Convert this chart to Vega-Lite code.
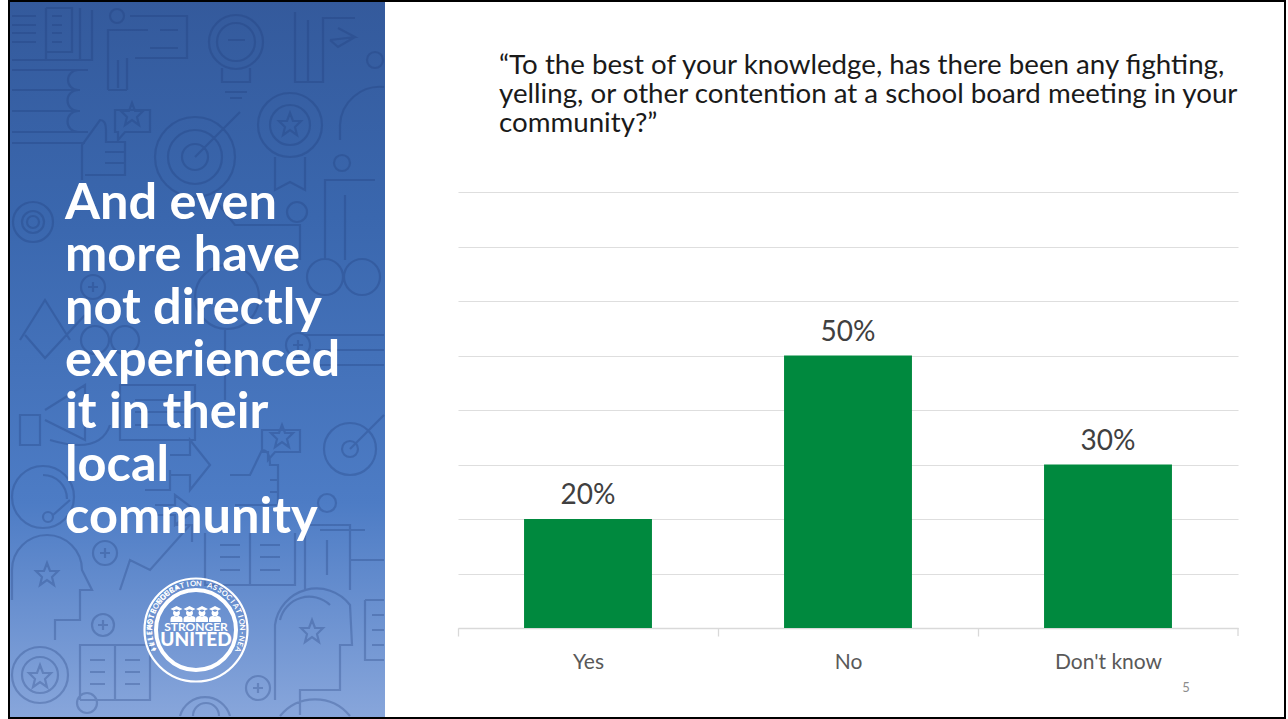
{"$schema":"https://vega.github.io/schema/vega-lite/v6.json","padding":{"left":8,"top":0,"right":0,"bottom":0},"background":"white","config":{"view":{"stroke":null}},"bounds":"flush","spacing":73,"hconcat":[{"width":375,"height":716,"data":{"values":[{}]},"layer":[{"mark":{"type":"rect","fill":{"gradient":"linear","x1":0,"y1":0,"x2":0,"y2":1,"stops":[{"offset":0,"color":"#345A9C"},{"offset":0.3,"color":"#3A67AE"},{"offset":0.7,"color":"#4D7CC5"},{"offset":1,"color":"#88A6DB"}]}},"encoding":{"x":{"value":0},"x2":{"value":375},"y":{"value":0},"y2":{"value":716}}},{"mark":{"type":"point","clip":true,"filled":false,"opacity":0.28,"stroke":"#1E3A78","strokeWidth":2.2,"shape":"M12 60H92V10M46 8V60M12 16H36M12 25H36M12 33H36M12 42H36M52 16H62M52 25H62M52 33H62M52 42H62M46 8H72V52H46M80 8V60M110 16a7 7 0 1 0 14 0a7 7 0 1 0 -14 0M108 90V30H148M127 90V58M108 90H127M118 60V88M130 16H187V58H135M160 30H178M150 48H178M209 42a27 27 0 1 0 54 0a27 27 0 1 0 -54 0M217 42a19 19 0 1 0 38 0a19 19 0 1 0 -38 0M222 68V82H250V68M225 92H247M230 98H242M228 40H245M295 12V82H323V18H355M308 20V82M330 40L355 37L338 28M330 40L338 47L355 37M367 60a8 8 0 1 0 16 0a8 8 0 1 0 -16 0M12 70H88M12 90H80M12 111H80M12 132H88M12 143H85M78 70a10 10 0 0 0 0 20M78 90a10 10 0 0 0 0 21M78 111a10 10 0 0 0 0 21M115 110H150V132H125L118 140V132H115ZM132 103l3 8h8l-6 6l2 8l-7 -5l-7 5l2 -8l-6 -6h8zM82 180V145L100 120Q106 120 106 130V142H125V175H85M105 152H125M105 163H125M155 157a40 40 0 1 0 80 0a40 40 0 1 0 -80 0M168 157a27 27 0 1 0 54 0a27 27 0 1 0 -54 0M182 157a13 13 0 1 0 26 0a13 13 0 1 0 -26 0M195 157L240 112M258 125a32 32 0 1 0 64 0a32 32 0 1 0 -64 0M270 125a20 20 0 1 0 40 0a20 20 0 1 0 -40 0M290 113l3 8h8l-6 6l2 8l-7 -5l-7 5l2 -8l-6 -6h8zM275 157V190L290 182L305 190V157M340 140V125a40 40 0 0 1 44 -38M334 163a8 8 0 1 0 16 0a8 8 0 1 0 -16 0M325 260V180H375M345 260V195M13 222a20 20 0 1 0 40 0a20 20 0 1 0 -40 0M22 222a11 11 0 1 0 22 0a11 11 0 1 0 -22 0M27 222a6 6 0 1 0 12 0a6 6 0 1 0 -12 0M287 212a10 10 0 1 0 20 0a10 10 0 1 0 -20 0M215 200L235 225H300V260M307 277a18 18 0 1 0 36 0a18 18 0 1 0 -36 0M344 277a18 18 0 1 0 36 0a18 18 0 1 0 -36 0M195 297a32 32 0 1 0 64 0a32 32 0 1 0 -64 0M225 330V400M81 287a12 12 0 1 0 24 0a12 12 0 1 0 -24 0M88 287h10M93 282v10M20 340L45 300L70 340M25 335L45 358L85 315M81 340a14 14 0 1 0 28 0a14 14 0 1 0 -28 0M111 340a14 14 0 1 0 28 0a14 14 0 1 0 -28 0M286 345a12 12 0 1 0 24 0a12 12 0 1 0 -24 0M293 345h10M298 340v10M305 335H384M315 350H384M315 365H384M20 415H40V445H20ZM45 410L85 385V440L45 420M50 440Q100 455 110 425M120 385H195V440H120ZM135 400H185M135 412H185M135 425H185M324 449a26 26 0 1 0 52 0a26 26 0 1 0 -52 0M342 449a8 8 0 1 0 16 0a8 8 0 1 0 -16 0M350 449L384 415M262 430H300V452H275L268 460V452H262ZM282 425l3 8h8l-6 6l2 8l-7 -5l-7 5l2 -8l-6 -6h8zM230 475H250L262 450Q270 450 270 465H278V505H235M270 480H278M270 492H278M318 503a9 9 0 1 0 18 0a9 9 0 1 0 -18 0M305 590V525H350V590M327 540V575M12 497a31 31 0 1 0 62 0a31 31 0 1 0 -62 0M43 475a24 24 0 0 1 24 24M70 500L53 515M43 517a5 5 0 1 0 10 0a5 5 0 1 0 -10 0M170 455H190V440L210 465L190 490V475H170M145 490H170V470M155 505H175V495L195 510L175 525V515H155M120 590L130 560L150 570L190 525M175 525H192V542M93 553a12 12 0 1 0 24 0a12 12 0 1 0 -24 0M100 553h10M105 548v10M205 533V585H295V533M250 533V585M220 545H240M220 557H240M220 570H240M260 545H280M260 557H280M260 570H280M12 600V570a35 35 0 0 1 70 0L92 590H80V620H55V640M47 563l3 8h8l-6 6l2 8l-7 -5l-7 5l2 -8l-6 -6h8zM92 625a11 11 0 1 0 22 0a11 11 0 1 0 -22 0M98 625h10M103 620v10M80 700V645H150V700H80M115 645V700M90 660H105M90 672H105M90 684H105M125 660H140M125 672H140M125 684H140M12 675a28 28 0 1 0 56 0a28 28 0 1 0 -56 0M22 675a18 18 0 1 0 36 0a18 18 0 1 0 -36 0M40 665l3 8h8l-6 6l2 8l-7 -5l-7 5l2 -8l-6 -6h8zM77 703a10 10 0 1 0 20 0a10 10 0 1 0 -20 0M246 688a12 12 0 1 0 24 0a12 12 0 1 0 -24 0M253 688h10M258 683v10M275 700V625a42 42 0 0 1 75 -20L352 645H340V690H300V715M312 620l3 8h8l-6 6l2 8l-7 -5l-7 5l2 -8l-6 -6h8zM280 620a30 30 0 0 1 50 -15M365 600H384M365 600V660H384M372 615H384M372 630H384M372 645H384M180 716a26 26 0 0 1 50 0M193 716a12 12 0 0 1 26 0M280 716a45 45 0 0 1 70 0M320 530H365M350 560H384"},"encoding":{"x":{"value":-10},"y":{"value":-2},"size":{"value":4}}},{"mark":{"type":"text","text":["And even","more have","not directly","experienced","it in their","local","community"],"font":"Lato","fontWeight":"bold","fontSize":50.5,"lineHeight":52.3,"align":"left","baseline":"alphabetic","fill":"white"},"encoding":{"x":{"value":55},"y":{"value":217}}},{"mark":{"type":"point","filled":false,"stroke":"white","strokeWidth":2.2,"opacity":1},"encoding":{"x":{"value":186},"y":{"value":628},"size":{"value":10609}}},{"mark":{"type":"point","filled":false,"stroke":"white","strokeWidth":4,"opacity":1},"encoding":{"x":{"value":186},"y":{"value":628},"size":{"value":6400}}},{"mark":{"type":"point","filled":true,"fill":"white","opacity":1,"strokeWidth":0,"shape":"M170.5 609L176.5 606L182.5 609L176.5 612ZM173 613a3.5 3.5 0 1 0 7 0a3.5 3.5 0 1 0 -7 0M170.5 622v-3q0 -3 4 -3h4q4 0 4 3v3ZM183.5 609L189.5 606L195.5 609L189.5 612ZM186 613a3.5 3.5 0 1 0 7 0a3.5 3.5 0 1 0 -7 0M183.5 622v-3q0 -3 4 -3h4q4 0 4 3v3ZM196 609L202 606L208 609L202 612ZM198.5 613a3.5 3.5 0 1 0 7 0a3.5 3.5 0 1 0 -7 0M196 622v-3q0 -3 4 -3h4q4 0 4 3v3ZM209 609L215 606L221 609L215 612ZM211.5 613a3.5 3.5 0 1 0 7 0a3.5 3.5 0 1 0 -7 0M209 622v-3q0 -3 4 -3h4q4 0 4 3v3Z"},"encoding":{"x":{"value":-10},"y":{"value":-2},"size":{"value":4}}},{"mark":{"type":"text","text":"STRONGER","font":"Lato","fontWeight":"bold","fontSize":12,"fill":"white","align":"center","baseline":"middle"},"encoding":{"x":{"value":186},"y":{"value":625}}},{"mark":{"type":"text","text":"UNITED","font":"Lato","fontWeight":900,"fontSize":19,"fill":"white","align":"center","baseline":"middle"},"encoding":{"x":{"value":186},"y":{"value":638}}},{"data":{"values":[{"c":"I","i":0},{"c":"L","i":1},{"c":"L","i":2},{"c":"I","i":3},{"c":"N","i":4},{"c":"O","i":5},{"c":"I","i":6},{"c":"S","i":7},{"c":" ","i":8},{"c":"E","i":9},{"c":"D","i":10},{"c":"U","i":11},{"c":"C","i":12},{"c":"A","i":13},{"c":"T","i":14},{"c":"I","i":15},{"c":"O","i":16},{"c":"N","i":17},{"c":" ","i":18},{"c":"A","i":19},{"c":"S","i":20},{"c":"S","i":21},{"c":"O","i":22},{"c":"C","i":23},{"c":"I","i":24},{"c":"A","i":25},{"c":"T","i":26},{"c":"I","i":27},{"c":"O","i":28},{"c":"N","i":29},{"c":"-","i":30},{"c":"N","i":31},{"c":"E","i":32},{"c":"A","i":33}]},"mark":{"type":"text","font":"Lato","fontWeight":"bold","fontSize":7.5,"fill":"white","align":"center","baseline":"middle"},"encoding":{"x":{"value":186},"y":{"value":628},"text":{"field":"c"},"radius":{"value":46},"theta":{"field":"i","type":"quantitative","stack":null,"scale":{"domain":[0,33],"range":[-2.0,2.0]}},"angle":{"field":"i","type":"quantitative","scale":{"domain":[0,33],"range":[-115,115]}}}},{"data":{"values":[{"c":"•","i":0},{"c":"#","i":1},{"c":"I","i":2},{"c":"E","i":3},{"c":"A","i":4},{"c":"S","i":5},{"c":"T","i":6},{"c":"R","i":7},{"c":"O","i":8},{"c":"N","i":9},{"c":"G","i":10},{"c":"E","i":11},{"c":"R","i":12},{"c":"•","i":13}]},"mark":{"type":"text","font":"Lato","fontWeight":"bold","fontSize":7.5,"fill":"white","align":"center","baseline":"middle"},"encoding":{"x":{"value":186},"y":{"value":628},"text":{"field":"c"},"radius":{"value":46},"theta":{"field":"i","type":"quantitative","stack":null,"scale":{"domain":[0,13],"range":[4.12,2.16]}},"angle":{"field":"i","type":"quantitative","scale":{"domain":[0,13],"range":[56,-56]}}}},{"mark":{"type":"rect","fill":null,"stroke":"black","strokeWidth":2},"encoding":{"x":{"value":-1},"x2":{"value":1275},"y":{"value":-1},"y2":{"value":716}}}]},{"bounds":"flush","spacing":0,"vconcat":[{"width":780,"height":190,"data":{"values":[{}]},"mark":{"type":"text","text":["“To the best of your knowledge, has there been any fighting,","yelling, or other contention at a school board meeting in your","community?”"],"font":"Lato","fontSize":27.7,"lineHeight":29,"align":"left","baseline":"alphabetic","fill":"#1a1a1a"},"encoding":{"x":{"value":41},"y":{"value":72}}},{"width":780,"height":436,"data":{"values":[{"answer":"Yes","share":0.2},{"answer":"No","share":0.5},{"answer":"Don't know","share":0.3}]},"layer":[{"mark":{"type":"bar","color":"#00893E"},"encoding":{"x":{"field":"answer","type":"nominal","sort":null,"title":null,"scale":{"paddingInner":0.508,"paddingOuter":0.254},"axis":{"tickOffset":-130,"labelOffset":130,"labelAngle":0,"labelFont":"Lato","labelFontSize":21,"labelColor":"#595959","labelPadding":15,"domainColor":"#D9D9D9","domainWidth":1.3,"tickColor":"#D9D9D9","tickWidth":1.3,"tickSize":8}},"y":{"field":"share","type":"quantitative","title":null,"scale":{"domain":[0,0.8]},"axis":{"values":[0,0.1,0.2,0.3,0.4,0.5,0.6,0.7,0.8],"labels":false,"ticks":false,"domain":false,"grid":true,"gridColor":"#DEDEDE","gridWidth":1.2}}}},{"mark":{"type":"text","font":"Lato","fontSize":28,"fill":"#404040","baseline":"alphabetic","dy":-15},"encoding":{"x":{"field":"answer","type":"nominal","sort":null},"y":{"field":"share","type":"quantitative"},"text":{"field":"share","type":"quantitative","format":".0%"}}},{"data":{"values":[{}]},"mark":{"type":"rule","color":"#D9D9D9","strokeWidth":1.3},"encoding":{"x":{"value":780},"y":{"value":436},"y2":{"value":444}}},{"data":{"values":[{}]},"mark":{"type":"text","text":"5","font":"Lato","fontSize":13,"fill":"#8C8C8C","align":"center","baseline":"middle"},"encoding":{"x":{"value":728},"y":{"value":496}}}]}]}]}
